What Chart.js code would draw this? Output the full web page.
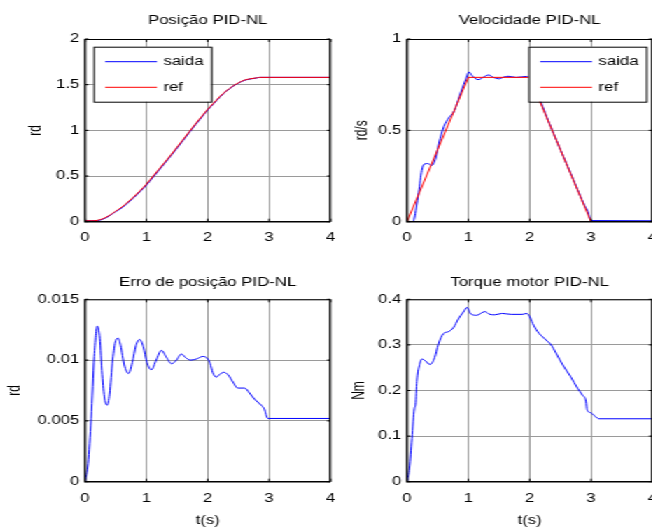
<!DOCTYPE html>
<html>
<head>
<meta charset="utf-8">
<title>PID-NL</title>
<script src="https://cdn.jsdelivr.net/npm/chart.js@4.4.1/dist/chart.umd.min.js"></script>
<style>
  html, body { margin: 0; padding: 0; background: #fff; overflow: hidden; }
  /* the original figure is stretched sideways, so the whole figure is scaled in x */
  #figure { position: absolute; left: 0; top: 0; width: 466px; height: 530px; transform: scaleX(1.4); transform-origin: 0 0; }
  #figure canvas { position: absolute; width: 250px; height: 270px; }
</style>
</head>
<body>
<div id="figure">
  <canvas id="posChart" width="250" height="270" style="left:0;top:0"></canvas>
  <canvas id="velChart" width="250" height="270" style="left:230px;top:0"></canvas>
  <canvas id="errChart" width="250" height="270" style="left:0;top:260px"></canvas>
  <canvas id="trqChart" width="250" height="270" style="left:230px;top:260px"></canvas>
</div>
<script>
// Tick values
const timeTicks = [0, 1, 2, 3, 4];
const posTicks = [0, 0.5, 1, 1.5, 2];
const velTicks = [0, 0.5, 1];
const errTicks = [0, 0.005, 0.01, 0.015];
const trqTicks = [0, 0.1, 0.2, 0.3, 0.4];

// Position (rd)
const posTime = [0, 0.1, 0.2, 0.3, 0.4, 0.5, 0.6, 0.7, 0.8, 0.9, 1.0, 1.1, 1.2, 1.3, 1.4, 1.5, 1.6, 1.7, 1.8, 1.9,
                 2.0, 2.1, 2.2, 2.3, 2.4, 2.5, 2.6, 2.7, 2.8, 2.85, 3.0, 4.0];
const posRef = [0.01, 0.01, 0.015, 0.035, 0.07, 0.115, 0.16, 0.215, 0.275, 0.34, 0.41, 0.49, 0.57, 0.65, 0.73, 0.815,
                0.90, 0.985, 1.07, 1.15, 1.23, 1.30, 1.37, 1.43, 1.48, 1.52, 1.55, 1.565, 1.575, 1.58, 1.58, 1.58];
const posOut = [0.01, 0.01, 0.012, 0.03, 0.065, 0.11, 0.152, 0.207, 0.267, 0.332, 0.40, 0.48, 0.56, 0.641, 0.722, 0.806,
                0.891, 0.977, 1.062, 1.143, 1.224, 1.295, 1.366, 1.427, 1.477, 1.517, 1.548, 1.563, 1.574, 1.58, 1.58, 1.58];

// Velocity (rd/s)
const velRefTime = [0, 1, 2, 3, 4];
const velRef = [0, 0.79, 0.79, 0, 0];
const velTime = [0, 0.1, 0.12, 0.15, 0.19, 0.24, 0.28, 0.34, 0.4, 0.46, 0.52, 0.6, 0.68, 0.76, 0.82, 0.89, 0.96,
                 1.01, 1.06, 1.12, 1.17, 1.25, 1.33, 1.41, 1.5, 1.58, 1.65, 1.78, 1.95, 2.0, 2.1, 2.2, 2.3, 2.4,
                 2.5, 2.6, 2.7, 2.8, 2.9, 2.95, 2.98, 3.0, 4.0];
const velOut = [0, 0, 0.02, 0.075, 0.16, 0.28, 0.315, 0.318, 0.308, 0.34, 0.43, 0.52, 0.568, 0.60, 0.65, 0.72, 0.78,
                0.82, 0.80, 0.782, 0.778, 0.792, 0.803, 0.79, 0.782, 0.792, 0.796, 0.79, 0.795, 0.79, 0.72, 0.64,
                0.555, 0.475, 0.395, 0.318, 0.24, 0.16, 0.085, 0.055, 0.02, 0.006, 0.005];

// Position error (rd)
const errTime = [0, 0.05, 0.1, 0.15, 0.2, 0.24, 0.28, 0.32, 0.36, 0.4, 0.45, 0.5, 0.54, 0.58, 0.64, 0.71, 0.77,
                 0.83, 0.89, 0.95, 1.01, 1.08, 1.16, 1.245, 1.33, 1.41, 1.49, 1.57, 1.64, 1.72, 1.82, 1.92, 2.0,
                 2.04, 2.08, 2.14, 2.19, 2.26, 2.33, 2.41, 2.49, 2.6, 2.68, 2.76, 2.87, 2.92, 2.98, 4.0];
const errVal = [0, 0.0015, 0.0052, 0.0103, 0.0128, 0.0118, 0.0088, 0.0068, 0.0063, 0.0072, 0.0100, 0.0116, 0.0118,
                0.0112, 0.0096, 0.0089, 0.0098, 0.0112, 0.0117, 0.0111, 0.0098, 0.0092, 0.0100, 0.0108, 0.0102,
                0.0097, 0.0100, 0.0105, 0.0102, 0.0100, 0.0101, 0.0103, 0.0101, 0.0097, 0.0090, 0.0086, 0.0088,
                0.0090, 0.0088, 0.0082, 0.0077, 0.0077, 0.0073, 0.0068, 0.0063, 0.0060, 0.0052, 0.0052];

// Motor torque (Nm)
const trqTime = [0, 0.04, 0.08, 0.12, 0.14, 0.16, 0.2, 0.245, 0.3, 0.375, 0.45, 0.51, 0.595, 0.676, 0.757, 0.838,
                 0.919, 0.98, 1.04, 1.135, 1.27, 1.35, 1.43, 1.55, 1.7, 1.88, 1.95, 2.0, 2.05, 2.13, 2.24, 2.35,
                 2.43, 2.54, 2.67, 2.78, 2.86, 2.92, 2.935, 3.0, 3.07, 3.13, 4.0];
const trqVal = [0, 0.03, 0.095, 0.16, 0.17, 0.22, 0.254, 0.269, 0.265, 0.257, 0.272, 0.301, 0.325, 0.329, 0.338,
                0.357, 0.372, 0.382, 0.368, 0.365, 0.373, 0.367, 0.366, 0.369, 0.367, 0.367, 0.369, 0.362, 0.347,
                0.329, 0.314, 0.30, 0.282, 0.256, 0.23, 0.205, 0.19, 0.175, 0.158, 0.151, 0.143, 0.138, 0.138];

const FONT = '12px "Liberation Sans", Arial, sans-serif';
Chart.defaults.font.family = '"Liberation Sans", Arial, sans-serif';
Chart.defaults.font.size = 12;
Chart.defaults.color = '#000';

// Turn two arrays into {x, y} points
function toPoints(times, values) {
    return times.map((t, i) => ({ x: t, y: values[i] }));
}

function lineSet(label, color, times, values, order) {
    return {
        label: label,
        data: toPoints(times, values),
        borderColor: color,
        borderWidth: 1,
        pointRadius: 0,
        fill: false,
        cubicInterpolationMode: 'monotone',
        order: order
    };
}

// Title above the plot box and black frame with small inward ticks, like matlab
const framePlugin = {
    id: 'frame',
    afterDatasetsDraw(chart, args, opts) {
        const ctx = chart.ctx;
        const ca = chart.chartArea;
        const xs = chart.scales.x, ys = chart.scales.y;
        ctx.save();
        ctx.strokeStyle = '#000';
        ctx.lineWidth = 1;
        ctx.beginPath();
        ctx.moveTo(ca.left, ca.top + 0.5);
        ctx.lineTo(ca.right, ca.top + 0.5);
        ctx.moveTo(ca.right - 0.5, ca.top);
        ctx.lineTo(ca.right - 0.5, ca.bottom);
        // inward tick marks
        xs.ticks.forEach(t => {
            const px = xs.getPixelForValue(t.value);
            ctx.moveTo(px, ca.bottom);
            ctx.lineTo(px, ca.bottom - 3);
            ctx.moveTo(px, ca.top);
            ctx.lineTo(px, ca.top + 3);
        });
        ys.ticks.forEach(t => {
            const py = ys.getPixelForValue(t.value);
            ctx.moveTo(ca.left, py);
            ctx.lineTo(ca.left + 2.5, py);
            ctx.moveTo(ca.right, py);
            ctx.lineTo(ca.right - 2.5, py);
        });
        ctx.stroke();
        // left and bottom axis a bit heavier
        ctx.lineWidth = 1.5;
        ctx.beginPath();
        ctx.moveTo(ca.left, ca.top);
        ctx.lineTo(ca.left, ca.bottom);
        ctx.lineTo(ca.right, ca.bottom);
        ctx.stroke();
        // title
        ctx.fillStyle = '#000';
        ctx.font = FONT;
        ctx.textAlign = 'center';
        ctx.textBaseline = 'middle';
        ctx.fillText(opts.title, (ca.left + ca.right) / 2, ca.top - opts.titleGap);
        ctx.restore();
    }
};

// Legend drawn as a white box with a black border inside the plot
const boxLegend = {
    id: 'boxLegend',
    afterDraw(chart, args, opts) {
        if (!opts.show) return;
        const ctx = chart.ctx;
        const ca = chart.chartArea;
        const w = 84, h = 55;
        const x = opts.side === 'right' ? ca.right - 4.5 - w : ca.left + 6;
        const y = ca.top + 7.7;
        ctx.save();
        ctx.fillStyle = '#fff';
        ctx.fillRect(x, y, w, h);
        ctx.strokeStyle = '#000';
        ctx.lineWidth = 1;
        ctx.strokeRect(x + 0.5, y + 0.5, w, h);
        ctx.font = FONT;
        ctx.textAlign = 'left';
        ctx.textBaseline = 'middle';
        chart.data.datasets.forEach((ds, i) => {
            const ly = y + 15 + i * 25.6;
            ctx.strokeStyle = ds.borderColor;
            ctx.beginPath();
            ctx.moveTo(x + 8.4, ly);
            ctx.lineTo(x + 45.4, ly);
            ctx.stroke();
            ctx.fillStyle = '#000';
            ctx.fillText(ds.label, x + 50, ly);
        });
        ctx.restore();
    }
};

function makeChart(id, setup) {
    const ctx = document.getElementById(id).getContext('2d');
    const bottomRow = setup.bottomRow;
    return new Chart(ctx, {
        type: 'line',
        data: { datasets: setup.datasets },
        options: {
            responsive: false,
            animation: false,
            devicePixelRatio: 1,
            events: [],
            layout: { padding: { top: bottomRow ? 39.3 : 39, left: 0, right: 14, bottom: 0 } },
            plugins: {
                legend: { display: false },
                tooltip: { enabled: false },
                frame: { title: setup.title, titleGap: bottomRow ? 16.8 : 18.8 },
                boxLegend: { show: setup.legend, side: setup.legendSide }
            },
            scales: {
                x: {
                    type: 'linear',
                    min: 0,
                    max: 4,
                    afterBuildTicks: (scale) => { scale.ticks = timeTicks.map(v => ({ value: v })); },
                    afterFit: (scale) => { scale.height = 48.3; },
                    ticks: { padding: bottomRow ? 10 : 9, maxRotation: 0, callback: (v) => String(v) },
                    grid: { color: '#9a9a9a', lineWidth: 1, drawTicks: false },
                    border: { display: false },
                    title: { display: bottomRow, text: 't(s)', padding: { top: 0, bottom: 1.8 } }
                },
                y: {
                    min: setup.yTicks[0],
                    max: setup.yTicks[setup.yTicks.length - 1],
                    afterBuildTicks: (scale) => { scale.ticks = setup.yTicks.map(v => ({ value: v })); },
                    afterFit: (scale) => { scale.width = 60.7; },
                    ticks: { padding: 4, callback: (v) => String(v) },
                    grid: { color: '#9a9a9a', lineWidth: 1, drawTicks: false },
                    border: { display: false },
                    title: { display: true, text: setup.yLabel, padding: { top: setup.yLabelPad, bottom: 0 } }
                }
            }
        },
        plugins: [framePlugin, boxLegend]
    });
}

makeChart('posChart', {
    title: 'Posição PID-NL',
    yLabel: 'rd',
    yLabelPad: 18.4,
    yTicks: posTicks,
    legend: true,
    legendSide: 'left',
    datasets: [
        lineSet('saida', '#0000ff', posTime, posOut, 2),
        lineSet('ref', '#ff0000', posTime, posRef, 1)
    ]
});

const velRefSet = lineSet('ref', '#ff0000', velRefTime, velRef, 1);
velRefSet.cubicInterpolationMode = 'default';
velRefSet.tension = 0;
makeChart('velChart', {
    title: 'Velocidade PID-NL',
    yLabel: 'rd/s',
    yLabelPad: 21.1,
    yTicks: velTicks,
    legend: true,
    legendSide: 'right',
    datasets: [
        lineSet('saida', '#0000ff', velTime, velOut, 2),
        velRefSet
    ]
});

makeChart('errChart', {
    title: 'Erro de posição PID-NL',
    yLabel: 'rd',
    yLabelPad: 3.5,
    yTicks: errTicks,
    bottomRow: true,
    legend: false,
    datasets: [lineSet('erro', '#0000ff', errTime, errVal, 1)]
});

makeChart('trqChart', {
    title: 'Torque motor PID-NL',
    yLabel: 'Nm',
    yLabelPad: 19.7,
    yTicks: trqTicks,
    bottomRow: true,
    legend: false,
    datasets: [lineSet('torque', '#0000ff', trqTime, trqVal, 1)]
});
</script>
</body>
</html>
